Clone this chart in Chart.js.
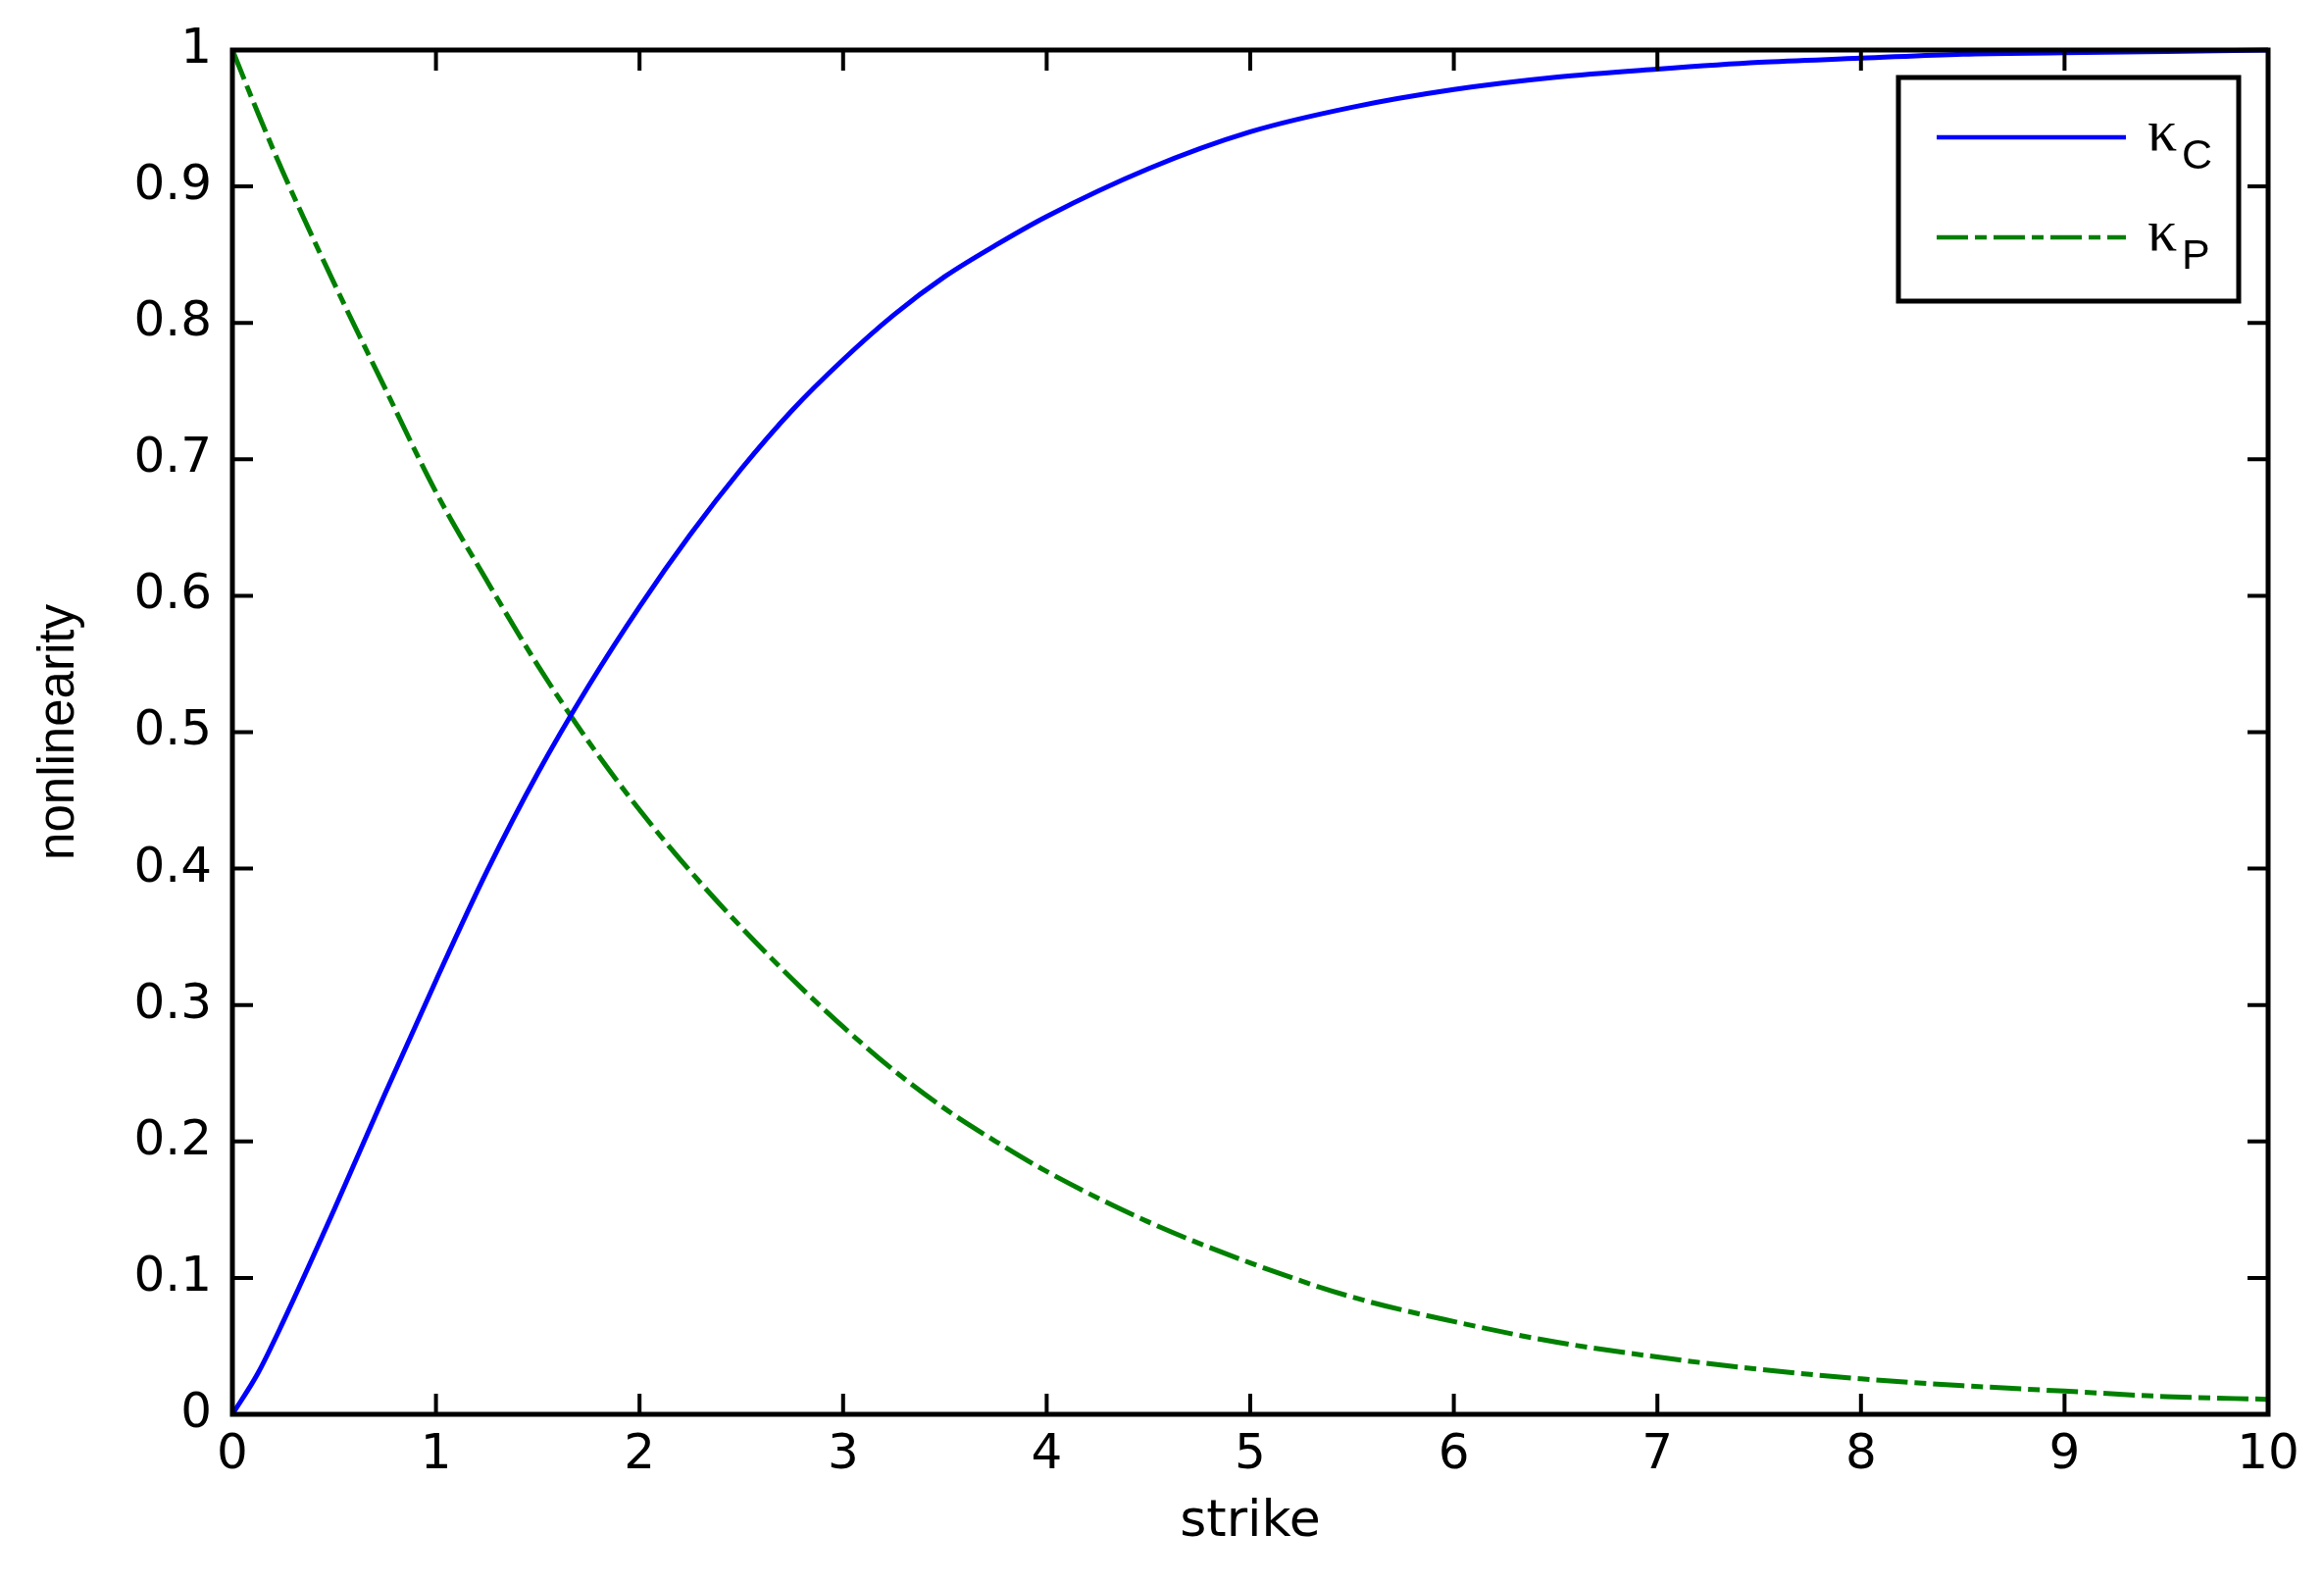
<!DOCTYPE html>
<html>
<head>
<meta charset="utf-8">
<script src="https://cdn.jsdelivr.net/npm/chart.js@4.4.1/dist/chart.umd.min.js"></script>
<style>
  html, body { margin: 0; padding: 0; background: #fff; }
  #wrap { width: 2370px; height: 1615px; }
</style>
</head>
<body>
<div id="wrap"><canvas id="nonlinChart" width="2370" height="1615"></canvas></div>
<script>
// values
var strike = [0, 0.125, 0.25, 0.5, 0.75, 1, 1.25, 1.5, 1.75, 2, 2.25, 2.5, 2.75, 3, 3.25, 3.5, 3.75, 4,
              4.5, 5, 5.5, 6, 6.5, 7, 7.5, 8, 8.5, 9, 9.5, 10];
var kappaC = [0, 0.030, 0.068, 0.150, 0.235, 0.318, 0.398, 0.470, 0.534, 0.592, 0.645, 0.693, 0.736,
              0.773, 0.806, 0.834, 0.857, 0.878, 0.913, 0.940, 0.958, 0.971, 0.980, 0.986, 0.991,
              0.994, 0.997, 0.998, 0.999, 1.0];
var kappaP = [1.0, 0.954, 0.910, 0.829, 0.752, 0.676, 0.611, 0.549, 0.493, 0.443, 0.398, 0.357, 0.319,
              0.284, 0.252, 0.224, 0.200, 0.178, 0.141, 0.111, 0.086, 0.068, 0.053, 0.042, 0.033,
              0.026, 0.021, 0.017, 0.013, 0.011];
var xTicks = [0, 1, 2, 3, 4, 5, 6, 7, 8, 9, 10];
var yTicks = [0, 0.1, 0.2, 0.3, 0.4, 0.5, 0.6, 0.7, 0.8, 0.9, 1];

function pts(ys) {
    return strike.map(function (s, i) { return { x: s, y: ys[i] }; });
}

// inward tick marks on all four sides + box, matlab style
var boxTicks = {
    id: 'boxTicks',
    afterDatasetsDraw: function (chart) {
        var ctx = chart.ctx, a = chart.chartArea, xs = chart.scales.x, ys = chart.scales.y;
        var len = 21;
        ctx.save();
        ctx.strokeStyle = '#000';
        ctx.lineWidth = 4;
        ctx.beginPath();
        xTicks.forEach(function (v) {
            var px = xs.getPixelForValue(v);
            ctx.moveTo(px, a.bottom); ctx.lineTo(px, a.bottom - len);
            ctx.moveTo(px, a.top); ctx.lineTo(px, a.top + len);
        });
        yTicks.forEach(function (v) {
            var py = ys.getPixelForValue(v);
            ctx.moveTo(a.left, py); ctx.lineTo(a.left + len, py);
            ctx.moveTo(a.right, py); ctx.lineTo(a.right - len, py);
        });
        ctx.stroke();
        ctx.lineWidth = 5;
        ctx.strokeRect(a.left, a.top, a.right - a.left, a.bottom - a.top);
        ctx.restore();
    }
};

// legend with subscripts (kappa_C, kappa_P)
var subLegend = {
    id: 'subLegend',
    afterDraw: function (chart) {
        var ctx = chart.ctx, a = chart.chartArea;
        var bx = a.right - 377, by = a.top + 28, bw = 347, bh = 228;
        ctx.save();
        ctx.fillStyle = '#fff';
        ctx.fillRect(bx, by, bw, bh);
        ctx.strokeStyle = '#000';
        ctx.lineWidth = 5;
        ctx.strokeRect(bx, by, bw, bh);
        var rows = [a.top + 89, a.top + 191];
        chart.data.datasets.forEach(function (ds, i) {
            var ly = rows[i];
            ctx.beginPath();
            ctx.strokeStyle = ds.borderColor;
            ctx.lineWidth = 4.5;
            ctx.lineCap = 'butt';
            ctx.setLineDash(ds.borderDash || []);
            ctx.moveTo(bx + 39, ly);
            ctx.lineTo(bx + 232, ly);
            ctx.stroke();
            ctx.setLineDash([]);
            var parts = ds.label.split('_');
            ctx.fillStyle = '#000';
            ctx.textBaseline = 'alphabetic';
            ctx.textAlign = 'left';
            ctx.font = '60px "Liberation Serif"';
            ctx.fillText(parts[0], bx + 254, ly + 13);
            ctx.font = '43px "Liberation Sans"';
            ctx.fillText(parts[1], bx + 289, ly + 32);
        });
        ctx.restore();
    }
};

var ctxNonlin = document.getElementById('nonlinChart').getContext('2d');
var nonlinChart = new Chart(ctxNonlin, {
    type: 'line',
    data: {
        datasets: [{
            label: 'κ_C',
            data: pts(kappaC),
            borderColor: '#0000ff',
            borderWidth: 5,
            pointRadius: 0,
            cubicInterpolationMode: 'monotone',
            clip: false
        }, {
            label: 'κ_P',
            data: pts(kappaP),
            borderColor: '#008000',
            borderWidth: 5,
            borderDash: [32, 7, 12, 7],
            pointRadius: 0,
            cubicInterpolationMode: 'monotone',
            clip: false
        }]
    },
    options: {
        responsive: false,
        devicePixelRatio: 1,
        animation: false,
        layout: { padding: { top: 48, right: 57, left: 0, bottom: 0 } },
        plugins: {
            legend: { display: false },
            tooltip: { enabled: false }
        },
        scales: {
            x: {
                type: 'linear',
                min: 0,
                max: 10,
                afterFit: function (s) { s.height = 173; },
                afterBuildTicks: function (s) { s.ticks = xTicks.map(function (v) { return { value: v }; }); },
                grid: { display: false, drawTicks: false },
                border: { display: false },
                ticks: {
                    padding: 12,
                    maxRotation: 0,
                    color: '#000',
                    font: { family: 'DejaVu Sans', size: 50 },
                    callback: function (v) { return String(v); }
                },
                title: {
                    display: true,
                    text: 'strike',
                    color: '#000',
                    font: { family: 'DejaVu Sans', size: 52 },
                    padding: { top: 0, bottom: 31 }
                }
            },
            y: {
                min: 0,
                max: 1,
                afterFit: function (s) { s.width = 237; },
                afterBuildTicks: function (s) { s.ticks = yTicks.map(function (v) { return { value: v }; }); },
                grid: { display: false, drawTicks: false },
                border: { display: false },
                ticks: {
                    padding: 21,
                    color: '#000',
                    font: { family: 'DejaVu Sans', size: 50 },
                    callback: function (v) { return String(+v.toFixed(1)); }
                },
                title: {
                    display: true,
                    text: 'nonlinearity',
                    color: '#000',
                    font: { family: 'Liberation Sans', size: 51 },
                    padding: { top: 30, bottom: 0 }
                }
            }
        }
    },
    plugins: [boxTicks, subLegend]
});
</script>
</body>
</html>
